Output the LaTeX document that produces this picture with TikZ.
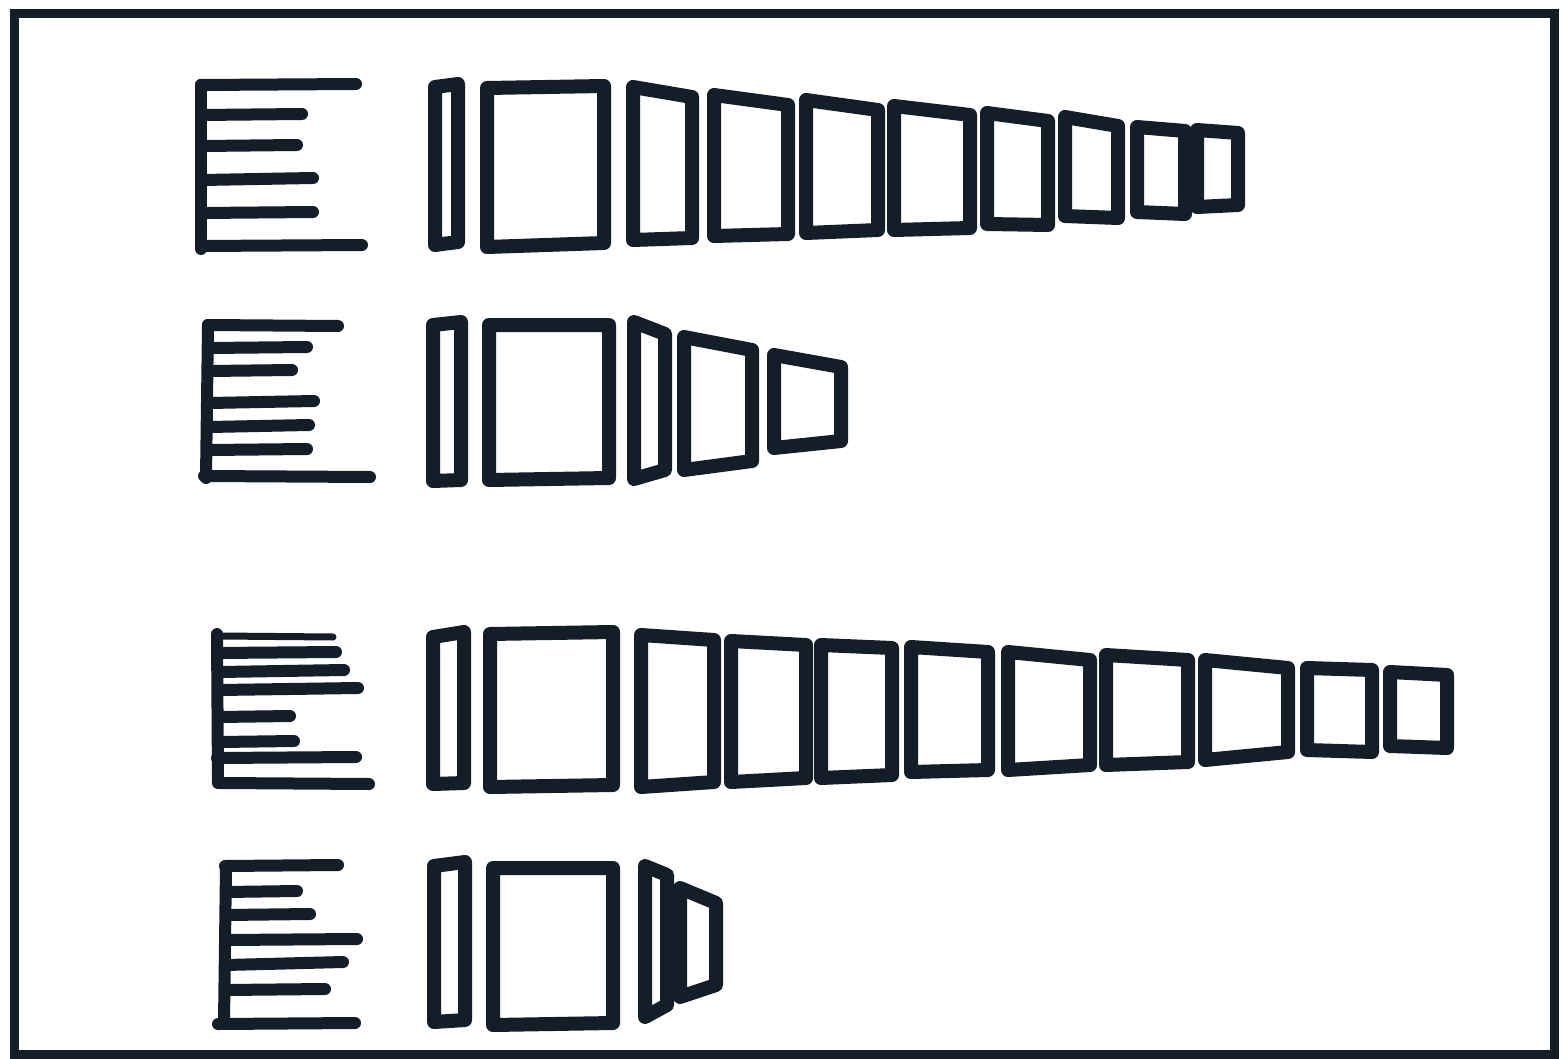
\documentclass[tikz,border=0pt]{standalone}
\definecolor{ink}{RGB}{20,30,40}
\tikzset{
  pen/.style={line width=7pt, line cap=round, line join=round, draw=ink},
  tooth/.style={line width=6pt, line cap=round, draw=ink},
  thintooth/.style={line width=3.5pt, line cap=round, draw=ink},
  frame/.style={line width=4.5pt, draw=ink}
}
% trapezoid: left x, right x, left top y, left bottom y, right top y, right bottom y
\newcommand\trapz[6]{\draw[pen] (#1,#3) -- (#2,#5) -- (#2,#6) -- (#1,#4) -- cycle;}
\begin{document}
\begin{tikzpicture}[x=0.5pt,y=-0.5pt]
\useasboundingbox (0,0) rectangle (1568,1059);
\fill[white] (0,0) rectangle (1568,1059);
\draw[frame] (14,14) rectangle (1554,1054);

% ---------- row 1 ----------
\draw[tooth] (201,85) -- (201,249);
\draw[tooth] (201,85) -- (356,84);
\draw[tooth] (201,115) -- (302,114);
\draw[tooth] (203,146) -- (297,145);
\draw[tooth] (203,180) -- (313,178);
\draw[tooth] (203,213) -- (313,212);
\draw[tooth] (201,246) -- (362,245);
\trapz{435}{458}{87}{245}{84}{242}
\trapz{487}{604}{88}{247}{86}{243}
\trapz{633}{692}{87}{240}{97}{238}
\trapz{714}{788}{95}{236}{105}{234}
\trapz{806}{878}{100}{233}{110}{230}
\trapz{894}{970}{106}{230}{115}{228}
\trapz{987}{1048}{113}{224}{121}{225}
\trapz{1065}{1118}{117}{216}{126}{218}
\trapz{1137}{1185}{127}{212}{131}{214}
\trapz{1197}{1238}{130}{207}{133}{205}

% ---------- row 2 ----------
\draw[tooth] (208,325) -- (206,478);
\draw[tooth] (208,325) -- (338,326);
\draw[tooth] (210,348) -- (307,347);
\draw[tooth] (210,371) -- (292,370);
\draw[tooth] (210,403) -- (314,401);
\draw[tooth] (210,427) -- (309,425);
\draw[tooth] (210,450) -- (307,449);
\draw[tooth] (204,476) -- (370,477);
\trapz{433}{461}{325}{481}{322}{480}
\trapz{489}{609}{325}{480}{325}{478}
\trapz{634}{665}{322}{479}{334}{470}
\trapz{684}{752}{337}{470}{350}{461}
\trapz{774}{841}{355}{448}{367}{441}

% ---------- row 3 ----------
\draw[tooth] (217,634) -- (218,783);
\draw[thintooth] (220,636) -- (333,637);
\draw[tooth] (217,653) -- (336,652);
\draw[tooth] (220,672) -- (344,670);
\draw[tooth] (220,690) -- (358,688);
\draw[tooth] (220,717) -- (290,716);
\draw[tooth] (220,742) -- (294,741);
\draw[tooth] (217,758) -- (356,757);
\draw[tooth] (220,783) -- (369,784);
\trapz{433}{464}{637}{784}{632}{783}
\trapz{490}{613}{634}{787}{632}{785}
\trapz{641}{714}{635}{787}{640}{782}
\trapz{731}{806}{641}{782}{645}{778}
\trapz{821}{892}{645}{778}{648}{775}
\trapz{911}{988}{647}{772}{652}{770}
\trapz{1008}{1090}{652}{770}{660}{765}
\trapz{1106}{1188}{655}{765}{660}{762}
\trapz{1205}{1288}{660}{760}{668}{752}
\trapz{1307}{1372}{668}{750}{670}{752}
\trapz{1390}{1447}{672}{746}{675}{748}

% ---------- row 4 ----------
\draw[tooth] (226,866) -- (224,1022);
\draw[tooth] (225,866) -- (338,865);
\draw[tooth] (226,892) -- (297,891);
\draw[tooth] (226,915) -- (310,914);
\draw[tooth] (226,940) -- (357,939);
\draw[tooth] (226,965) -- (343,962);
\draw[tooth] (226,990) -- (325,989);
\draw[tooth] (218,1024) -- (355,1023);
\trapz{434}{465}{866}{1022}{862}{1020}
\trapz{493}{613}{868}{1025}{868}{1023}
\trapz{645}{667}{866}{1017}{875}{1005}
\trapz{680}{716}{888}{997}{903}{985}
\end{tikzpicture}
\end{document}
